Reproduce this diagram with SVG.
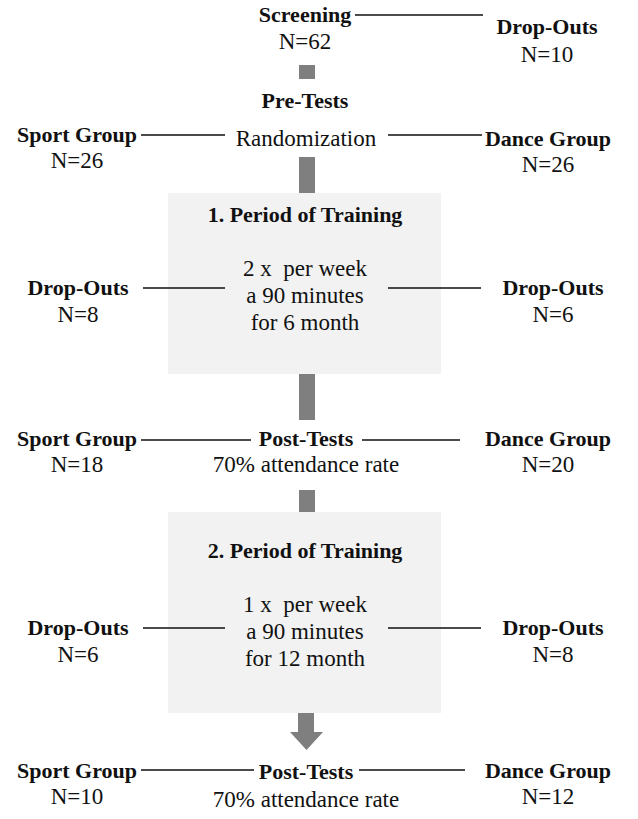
<svg xmlns="http://www.w3.org/2000/svg" width="638" height="819" viewBox="0 0 638 819">
<style>
text{font-family:'Liberation Serif','Times New Roman',serif;font-size:23px;fill:#111;text-anchor:middle}
.b{font-weight:bold;font-size:22px}
.ln{stroke:#111;stroke-width:1.4;fill:none}
.bar{fill:#7f7f7f}
.box{fill:#f2f2f2}
</style>
<rect width="638" height="819" fill="#fff"/>
<g id="box1"><rect class="box" x="168" y="193" width="273" height="181"/></g>
<g id="box2"><rect class="box" x="168" y="512" width="273" height="201"/></g>
<g id="connectors">
<rect class="bar" x="299" y="65" width="16" height="14"/>
<rect class="bar" x="299" y="157" width="16" height="36"/>
<rect class="bar" x="299" y="374" width="16" height="46"/>
<rect class="bar" x="299" y="490" width="16" height="22"/>
<path class="bar" d="M298 713 H314 V732 H323 L306.5 750 L290 732 H298 Z"/>
<path class="ln" d="M355 15 H483"/>
<path class="ln" d="M141 135 H225 M388 135 H482"/>
<path class="ln" d="M143 288 H225 M388 288 H481"/>
<path class="ln" d="M141 440 H251 M362 440 H460"/>
<path class="ln" d="M143 628 H225 M388 628 H481"/>
<path class="ln" d="M141 770 H254 M359 770 H465"/>
</g>
<g id="screening"><text class="b" x="305" y="22">Screening</text><text x="305" y="49">N=62</text></g>
<g id="dropouts0"><text class="b" x="547" y="34">Drop-Outs</text><text x="547" y="62">N=10</text></g>
<g id="pretests"><text class="b" x="305" y="108">Pre-Tests</text><text x="306" y="146">Randomization</text></g>
<g id="sport1"><text class="b" x="77" y="142">Sport Group</text><text x="77" y="168">N=26</text></g>
<g id="dance1"><text class="b" x="548" y="146">Dance Group</text><text x="548" y="172">N=26</text></g>
<g id="period1"><text class="b" x="305" y="222">1. Period of Training</text><text x="305" y="276" xml:space="preserve">2 x  per week</text><text x="305" y="303">a 90 minutes</text><text x="305" y="330">for 6 month</text></g>
<g id="dropoutsL1"><text class="b" x="78" y="295">Drop-Outs</text><text x="78" y="322">N=8</text></g>
<g id="dropoutsR1"><text class="b" x="553" y="295">Drop-Outs</text><text x="553" y="322">N=6</text></g>
<g id="sport2"><text class="b" x="77" y="446">Sport Group</text><text x="77" y="472">N=18</text></g>
<g id="post1"><text class="b" x="306" y="446">Post-Tests</text><text x="306" y="472">70% attendance rate</text></g>
<g id="dance2"><text class="b" x="548" y="446">Dance Group</text><text x="548" y="472">N=20</text></g>
<g id="period2"><text class="b" x="305" y="558">2. Period of Training</text><text x="305" y="612" xml:space="preserve">1 x  per week</text><text x="305" y="639">a 90 minutes</text><text x="305" y="666">for 12 month</text></g>
<g id="dropoutsL2"><text class="b" x="78" y="635">Drop-Outs</text><text x="78" y="662">N=6</text></g>
<g id="dropoutsR2"><text class="b" x="553" y="635">Drop-Outs</text><text x="553" y="662">N=8</text></g>
<g id="sport3"><text class="b" x="77" y="778">Sport Group</text><text x="77" y="804">N=10</text></g>
<g id="post2"><text class="b" x="306" y="779">Post-Tests</text><text x="306" y="807">70% attendance rate</text></g>
<g id="dance3"><text class="b" x="548" y="778">Dance Group</text><text x="548" y="804">N=12</text></g>
</svg>
